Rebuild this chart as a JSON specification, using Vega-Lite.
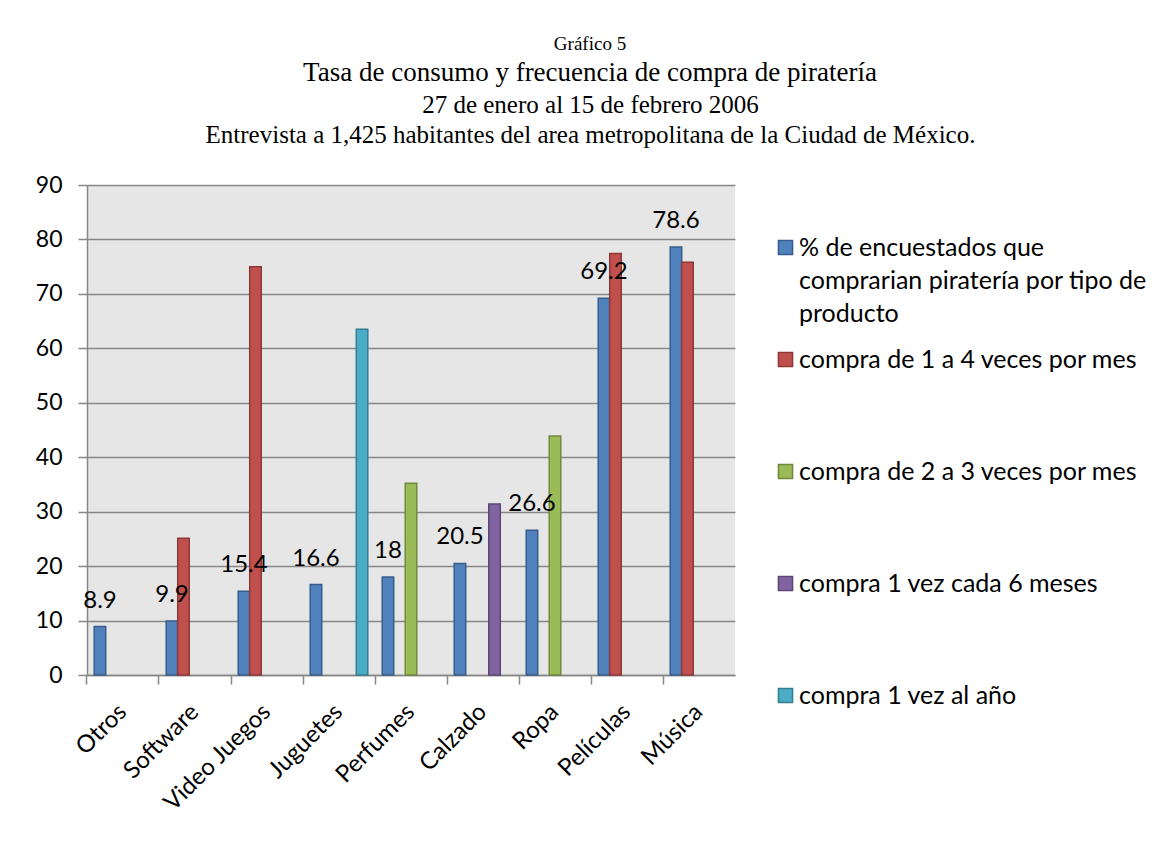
{
  "$schema": "https://vega.github.io/schema/vega-lite/v6.json",
  "width": 648,
  "height": 490,
  "autosize": {"type": "none"},
  "padding": {"left": 87, "top": 185, "right": 430, "bottom": 170},
  "background": "white",
  "title": {
    "text": "Gráfico 5",
    "subtitle": "Tasa de consumo y frecuencia de compra de piratería",
    "font": "Liberation Serif",
    "fontSize": 19,
    "fontWeight": "normal",
    "color": "black",
    "subtitleFont": "Liberation Serif",
    "subtitleFontSize": 27,
    "subtitleColor": "black",
    "subtitlePadding": 6,
    "anchor": "middle",
    "dx": 179,
    "offset": 6
  },
  "config": {
    "view": {"fill": "#e6e6e6", "stroke": null},
    "style": {"guide-label": {"lineHeight": 33}}
  },
  "data": {
    "values": [
      {"producto": "Otros", "serie": "% de encuestados que comprarian piratería por tipo de producto", "valor": 8.9},
      {"producto": "Software", "serie": "% de encuestados que comprarian piratería por tipo de producto", "valor": 9.9},
      {"producto": "Software", "serie": "compra de 1 a 4 veces por mes", "valor": 25.1},
      {"producto": "Video Juegos", "serie": "% de encuestados que comprarian piratería por tipo de producto", "valor": 15.4},
      {"producto": "Video Juegos", "serie": "compra de 1 a 4 veces por mes", "valor": 75.0},
      {"producto": "Juguetes", "serie": "% de encuestados que comprarian piratería por tipo de producto", "valor": 16.6},
      {"producto": "Juguetes", "serie": "compra 1 vez al año", "valor": 63.5},
      {"producto": "Perfumes", "serie": "% de encuestados que comprarian piratería por tipo de producto", "valor": 18},
      {"producto": "Perfumes", "serie": "compra de 2 a 3 veces por mes", "valor": 35.2},
      {"producto": "Calzado", "serie": "% de encuestados que comprarian piratería por tipo de producto", "valor": 20.5},
      {"producto": "Calzado", "serie": "compra 1 vez cada 6 meses", "valor": 31.4},
      {"producto": "Ropa", "serie": "% de encuestados que comprarian piratería por tipo de producto", "valor": 26.6},
      {"producto": "Ropa", "serie": "compra de 2 a 3 veces por mes", "valor": 43.9},
      {"producto": "Películas", "serie": "% de encuestados que comprarian piratería por tipo de producto", "valor": 69.2},
      {"producto": "Películas", "serie": "compra de 1 a 4 veces por mes", "valor": 77.4},
      {"producto": "Música", "serie": "% de encuestados que comprarian piratería por tipo de producto", "valor": 78.6},
      {"producto": "Música", "serie": "compra de 1 a 4 veces por mes", "valor": 75.8}
    ]
  },
  "encoding": {
    "xOffset": {
      "field": "serie",
      "type": "nominal",
      "scale": {
        "domain": [
          "% de encuestados que comprarian piratería por tipo de producto",
          "compra de 1 a 4 veces por mes",
          "compra de 2 a 3 veces por mes",
          "compra 1 vez cada 6 meses",
          "compra 1 vez al año"
        ],
        "paddingInner": 0,
        "paddingOuter": 0
      }
    },
    "y": {
      "field": "valor",
      "type": "quantitative",
      "scale": {"domain": [0, 90], "nice": false, "zero": true},
      "axis": {
        "values": [0, 10, 20, 30, 40, 50, 60, 70, 80, 90],
        "grid": true,
        "gridColor": "#878787",
        "gridWidth": 1.5,
        "gridOpacity": 1,
        "domain": true,
        "domainColor": "#878787",
        "domainWidth": 1.5,
        "ticks": true,
        "tickColor": "#878787",
        "tickWidth": 1.5,
        "tickSize": 9,
        "labelFont": "Lato",
        "labelFontSize": 23,
        "labelColor": "black",
        "labelPadding": 16,
        "title": ["27 de enero al 15 de febrero 2006", "Entrevista a 1,425 habitantes del area metropolitana de la Ciudad de México."],
        "titleFont": "Liberation Serif",
        "titleFontSize": 25,
        "titleFontWeight": "normal",
        "titleColor": "black",
        "titleAngle": 0,
        "titleAlign": "center",
        "titleBaseline": "alphabetic",
        "titleLineHeight": 30,
        "titleX": 503,
        "titleY": -73
      }
    }
  },
  "layer": [
    {
      "mark": {"type": "bar", "strokeWidth": 1.5},
      "encoding": {
        "x": {
          "field": "producto",
          "type": "nominal",
          "sort": ["Otros", "Software", "Video Juegos", "Juguetes", "Perfumes", "Calzado", "Ropa", "Películas", "Música"],
          "scale": {
            "domain": ["Otros", "Software", "Video Juegos", "Juguetes", "Perfumes", "Calzado", "Ropa", "Películas", "Música"],
            "paddingInner": 0.2,
            "paddingOuter": 0.1
          },
          "axis": {
            "orient": "bottom",
            "title": null,
            "labels": false,
            "ticks": true,
            "tickColor": "#878787",
            "tickWidth": 1.5,
            "tickSize": 9,
            "bandPosition": -0.125,
            "domain": true,
            "domainColor": "#878787",
            "domainWidth": 1.5,
            "grid": false
          }
        },
        "fill": {
          "field": "serie",
          "type": "nominal",
          "scale": {
            "domain": [
              "% de encuestados que comprarian piratería por tipo de producto",
              "compra de 1 a 4 veces por mes",
              "compra de 2 a 3 veces por mes",
              "compra 1 vez cada 6 meses",
              "compra 1 vez al año"
            ],
            "range": ["#4F81BD", "#C0504D", "#9BBB59", "#8064A2", "#4BACC6"]
          },
          "legend": {
            "title": null,
            "orient": "none",
            "legendX": 686,
            "legendY": 50,
            "direction": "vertical",
            "symbolType": "square",
            "symbolSize": 200,
            "symbolStrokeWidth": 1.5,
            "labelFont": "Lato",
            "labelFontSize": 25,
            "labelColor": "black",
            "labelOffset": 1,
            "labelLimit": 500,
            "labelBaseline": "middle",
            "gridAlign": "all",
            "rowPadding": 20,
            "labelExpr": "datum.value == '% de encuestados que comprarian piratería por tipo de producto' ? ['% de encuestados que', 'comprarian piratería por tipo de', 'producto'] : datum.label"
          }
        },
        "stroke": {
          "field": "serie",
          "type": "nominal",
          "scale": {
            "domain": [
              "% de encuestados que comprarian piratería por tipo de producto",
              "compra de 1 a 4 veces por mes",
              "compra de 2 a 3 veces por mes",
              "compra 1 vez cada 6 meses",
              "compra 1 vez al año"
            ],
            "range": ["#385D8A", "#8C3836", "#71893F", "#5C4776", "#357D91"]
          },
          "legend": {
            "title": null,
            "orient": "none",
            "legendX": 686,
            "legendY": 50,
            "direction": "vertical",
            "symbolType": "square",
            "symbolSize": 200,
            "symbolStrokeWidth": 1.5,
            "labelFont": "Lato",
            "labelFontSize": 25,
            "labelColor": "black",
            "labelOffset": 1,
            "labelLimit": 500,
            "labelBaseline": "middle",
            "gridAlign": "all",
            "rowPadding": 20,
            "labelExpr": "datum.value == '% de encuestados que comprarian piratería por tipo de producto' ? ['% de encuestados que', 'comprarian piratería por tipo de', 'producto'] : datum.label"
          }
        }
      }
    },
    {
      "transform": [{"filter": "datum.serie == '% de encuestados que comprarian piratería por tipo de producto'"}],
      "mark": {"type": "text", "font": "Lato", "fontSize": 24, "color": "black", "baseline": "alphabetic", "dy": -19},
      "encoding": {
        "x": {
          "field": "producto",
          "type": "nominal",
          "sort": ["Otros", "Software", "Video Juegos", "Juguetes", "Perfumes", "Calzado", "Ropa", "Películas", "Música"],
          "scale": {
            "domain": ["Otros", "Software", "Video Juegos", "Juguetes", "Perfumes", "Calzado", "Ropa", "Películas", "Música"],
            "paddingInner": 0.2,
            "paddingOuter": 0.1
          },
          "axis": {
            "orient": "bottom",
            "title": null,
            "labels": true,
            "ticks": false,
            "domain": false,
            "grid": false,
            "labelAngle": -45,
            "labelAlign": "right",
            "labelBaseline": "middle",
            "labelFont": "Lato",
            "labelFontSize": 24,
            "labelColor": "black",
            "labelPadding": 33
          }
        },
        "text": {"field": "valor", "type": "quantitative"}
      }
    }
  ],
  "resolve": {"axis": {"x": "independent"}}
}
